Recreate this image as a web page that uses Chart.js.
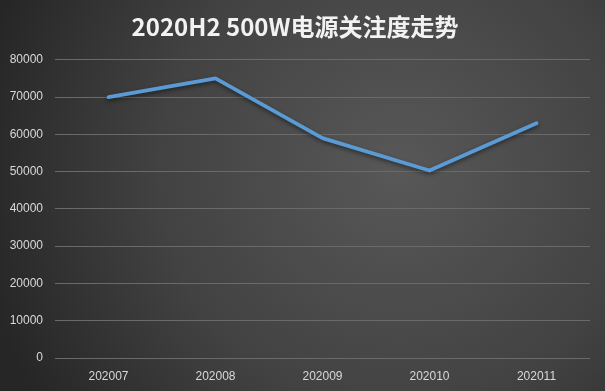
<!DOCTYPE html>
<html>
<head>
<meta charset="utf-8">
<script src="https://cdn.jsdelivr.net/npm/chart.js@4.4.0/dist/chart.umd.min.js"></script>
<style>
html,body{margin:0;padding:0;background:#333;}
#wrap{width:605px;height:391px;position:relative;}
</style>
</head>
<body>
<div id="wrap"><canvas id="c" width="605" height="391"></canvas></div>
<script>
const titleText = '2020H2 500W电源关注度走势';
const categories = ['202007', '202008', '202009', '202010', '202011'];
const seriesValues = [70000, 75000, 59000, 50300, 63000];
const yTicks = [0, 10000, 20000, 30000, 40000, 50000, 60000, 70000, 80000];

const bgPlugin = {
  id: 'bg',
  beforeDraw(chart) {
    const ctx = chart.ctx;
    const w = chart.width, h = chart.height;
    ctx.save();
    const g = ctx.createRadialGradient(400, 170, 10, 400, 170, 430);
    g.addColorStop(0, '#575757');
    g.addColorStop(0.55, '#424242');
    g.addColorStop(1, '#262626');
    ctx.fillStyle = g;
    ctx.fillRect(0, 0, w, h);
    ctx.restore();
  }
};

const shadowPlugin = {
  id: 'lineShadow',
  beforeDatasetDraw(chart) {
    const ctx = chart.ctx;
    ctx.save();
    ctx.shadowColor = 'rgba(0,0,0,0.5)';
    ctx.shadowBlur = 4;
    ctx.shadowOffsetY = 2;
  },
  afterDatasetDraw(chart) {
    chart.ctx.restore();
  }
};

new Chart(document.getElementById('c'), {
  type: 'line',
  data: {
    labels: categories,
    datasets: [{
      data: seriesValues,
      borderColor: '#5B9BD5',
      borderWidth: 3.8,
      pointRadius: 0,
      tension: 0,
      fill: false,
      borderCapStyle: 'round',
      borderJoinStyle: 'round'
    }]
  },
  options: {
    responsive: false,
    animation: false,
    devicePixelRatio: 1,
    layout: { padding: { left: 0, right: 15, top: 0, bottom: 0 } },
    plugins: {
      legend: { display: false },
      tooltip: { enabled: false },
      title: {
        display: true,
        text: titleText,
        color: '#f2f2f2',
        font: { family: '"Noto Sans CJK SC", "Liberation Sans", sans-serif', size: 24, weight: 'bold', lineHeight: 1.2 },
        padding: { top: 12, bottom: 19 }
      }
    },
    scales: {
      x: {
        offset: true,
        grid: { display: false, drawTicks: false },
        border: { display: false },
        ticks: {
          color: '#d9d9d9',
          font: { family: '"Liberation Sans", sans-serif', size: 12 },
          padding: 11,
          maxRotation: 0
        },
        afterFit(scale) { scale.height = 33; }
      },
      y: {
        min: 0,
        max: 80000,
        afterBuildTicks(scale) { scale.ticks = yTicks.map(v => ({ value: v })); },
        grid: { color: '#6a6a6a', lineWidth: 1, drawTicks: false },
        border: { display: false },
        ticks: {
          color: '#d9d9d9',
          font: { family: '"Liberation Sans", sans-serif', size: 12 },
          padding: 12,
          callback: (v) => String(v)
        },
        afterFit(scale) { scale.width = 55; }
      }
    }
  },
  plugins: [bgPlugin, shadowPlugin]
});
</script>
</body>
</html>
